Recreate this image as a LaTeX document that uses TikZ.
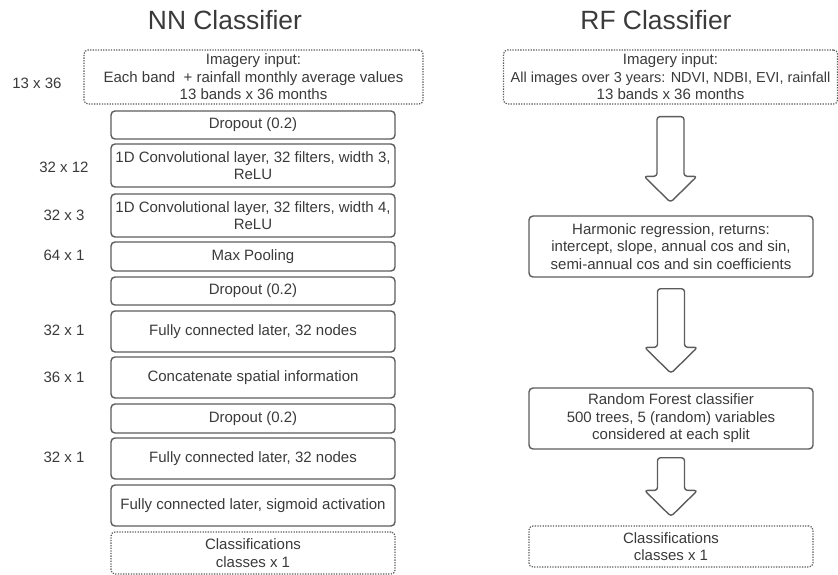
\documentclass[tikz,border=0pt]{standalone}
\usepackage{fontspec}
\setmainfont{Liberation Sans}
\usetikzlibrary{calc}
\definecolor{ink}{HTML}{3A3A3A}
\definecolor{edge}{HTML}{5C5C5C}
\begin{document}
\begin{tikzpicture}[x=1pt,y=-1pt,
  every node/.style={text=ink,font=\fontsize{15}{17.5}\selectfont,inner sep=0pt,align=center},
  layer/.style={draw=edge,line width=1.4pt,rounded corners=4pt,minimum width=#1},
  layer/.default=284pt,
  io/.style={draw=edge,line width=1.2pt,rounded corners=4pt,dash pattern=on 1.3pt off 1.3pt,minimum width=#1},
  io/.default=284pt,
  dims/.style={font=\fontsize{15}{17}\selectfont},
  title/.style={font=\fontsize{26.4}{30}\selectfont},
  blockarrow/.style={draw=edge,line width=1.4pt,rounded corners=3pt,line join=round}]
\useasboundingbox (0,0) rectangle (838,575);

% column titles
\node[title] (nnt) at (225,20) {NN Classifier};
\node[title] (rft) at (656,20) {RF Classifier};

% neural network stack
\node[io=339pt,minimum height=54pt] (nin) at (253.5,77) {Imagery input:\\Each band \ + rainfall monthly average values\\13 bands x 36 months};
\node[layer,minimum height=28pt] (d1) at (253,125) {Dropout (0.2)};
\node[layer,minimum height=43pt] (c1) at (253,165.5) {1D Convolutional layer, 32 filters, width 3,\\ReLU};
\node[layer,minimum height=43pt] (c2) at (253,215.5) {1D Convolutional layer, 32 filters, width 4,\\ReLU};
\node[layer,minimum height=29pt] (mp) at (253,256.5) {Max Pooling};
\node[layer,minimum height=28pt] (d2) at (253,291) {Dropout (0.2)};
\node[layer,minimum height=41pt] (f1) at (253,331.5) {Fully connected later, 32 nodes};
\node[layer,minimum height=41pt] (cc) at (253,377.5) {Concatenate spatial information};
\node[layer,minimum height=29pt] (d3) at (253,418.5) {Dropout (0.2)};
\node[layer,minimum height=41pt] (f2) at (253,458.5) {Fully connected later, 32 nodes};
\node[layer,minimum height=41pt] (fs) at (253,505.5) {Fully connected later, sigmoid activation};
\node[io,minimum height=42pt] (nout) at (253,553) {Classifications\\classes x 1};

% output shapes of the layers
\node[dims] (s0) at (37,83) {13 x 36};
\node[dims] (s1) at (64,167) {32 x 12};
\node[dims] (s2) at (64,215) {32 x 3};
\node[dims] (s3) at (64,255) {64 x 1};
\node[dims] (s4) at (64,330) {32 x 1};
\node[dims] (s5) at (64,377) {36 x 1};
\node[dims] (s6) at (64,457) {32 x 1};

% random forest pipeline
\node[io=334pt,minimum height=54pt] (rin) at (670.5,77) {Imagery input:\\{\fontsize{14.5}{17.5}\selectfont All images over 3 years: NDVI, NDBI, EVI, rainfall}\\13 bands x 36 months};
\node[layer,minimum height=61pt] (hr) at (671,246.5) {Harmonic regression, returns:\\intercept, slope, annual cos and sin,\\semi-annual cos and sin coefficients};
\node[layer,minimum height=61pt] (rf) at (671,418.5) {Random Forest classifier\\500 trees, 5 (random) variables\\considered at each split};
\node[io,minimum height=41pt] (rout) at (671,546.5) {Classifications\\classes x 1};

% hollow block arrows between the stages
\foreach \a/\b/\g/\h in {rin/hr/12/13, hr/rf/11/14, rf/rout/8/9}{
  \draw[blockarrow]
    let \p1=($(\a.south)+(0,\g)$), \p2=($(\b.north)+(0,-\h)$) in
    ({\x1-13.5pt},\y1) -- ({\x1+13.5pt},\y1) -- ({\x1+13.5pt},{\y2+26pt})
    -- ({\x1+26.5pt},{\y2+26pt}) -- (\x1,\y2) -- ({\x1-26.5pt},{\y2+26pt})
    -- ({\x1-13.5pt},{\y2+26pt}) -- cycle;
}
\end{tikzpicture}
\end{document}
